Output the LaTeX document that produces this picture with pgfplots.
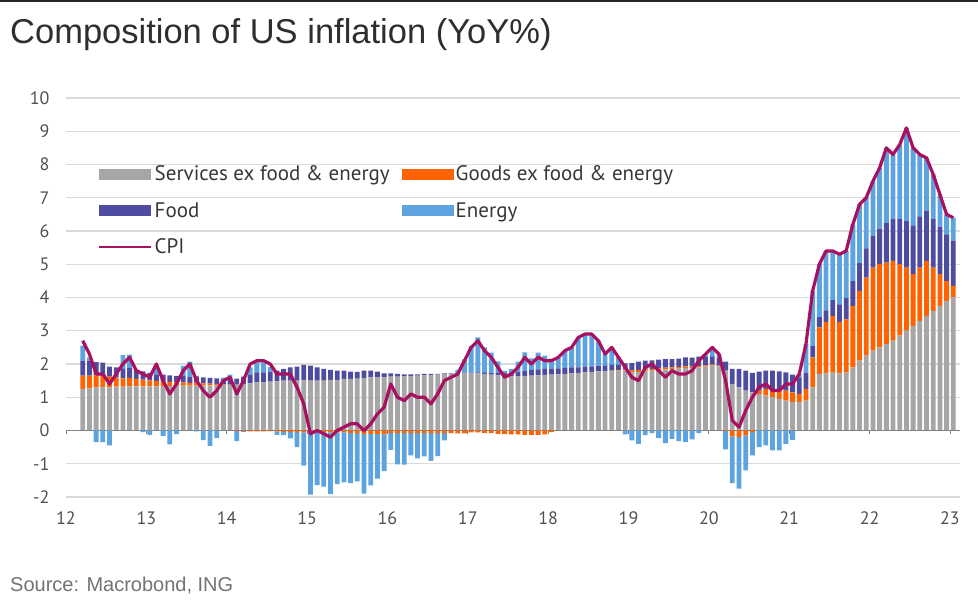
\documentclass[border=0pt]{standalone}
\usepackage{pgfplots}
\usepackage{pgfplotstable}
\pgfplotsset{compat=1.18}
\usepackage{fontspec}
\setmainfont{Liberation Sans}
\newfontfamily\ingfont{PT Sans}
\definecolor{svc}{RGB}{166,166,166}
\definecolor{gds}{RGB}{255,98,0}
\definecolor{fod}{RGB}{78,76,160}
\definecolor{nrg}{RGB}{92,163,224}
\definecolor{cpi}{RGB}{168,16,96}
\definecolor{gridc}{RGB}{218,218,218}
\definecolor{tickc}{RGB}{80,80,80}
\definecolor{legc}{RGB}{55,55,55}
\definecolor{zeroc}{RGB}{130,130,130}

% t = months since Jan 2012; S services, G goods, F food, E energy (contributions, pp); C = CPI YoY %
\pgfplotstableread{
t S G F E C
2 1.25 0.40 0.45 0.45 2.7
3 1.27 0.38 0.45 0.10 2.3
4 1.30 0.36 0.40 -0.35 1.7
5 1.30 0.34 0.40 -0.35 1.7
6 1.30 0.32 0.30 -0.45 1.4
7 1.32 0.28 0.30 0.00 1.7
8 1.32 0.25 0.30 0.40 2.0
9 1.33 0.25 0.30 0.40 2.2
10 1.33 0.22 0.28 0.00 1.8
11 1.33 0.20 0.25 -0.05 1.7
12 1.33 0.18 0.22 -0.13 1.6
13 1.33 0.16 0.20 0.22 2.0
14 1.34 0.14 0.20 -0.16 1.5
15 1.34 0.12 0.20 -0.42 1.1
16 1.35 0.10 0.19 -0.11 1.4
17 1.35 0.10 0.19 0.30 1.8
18 1.35 0.08 0.19 0.45 2.0
19 1.36 0.08 0.19 -0.03 1.5
20 1.36 0.06 0.18 -0.29 1.2
21 1.36 0.05 0.17 -0.46 1.0
22 1.37 0.03 0.17 -0.23 1.2
23 1.37 0.02 0.15 0.05 1.5
24 1.38 0.00 0.14 0.16 1.6
25 1.38 -0.02 0.18 -0.30 1.1
26 1.40 -0.02 0.22 -0.02 1.5
27 1.42 -0.03 0.25 0.23 2.0
28 1.45 -0.03 0.30 0.30 2.1
29 1.45 -0.03 0.30 0.30 2.1
30 1.47 -0.02 0.30 0.14 2.0
31 1.48 -0.03 0.32 -0.10 1.7
32 1.50 -0.04 0.35 -0.10 1.7
33 1.50 -0.04 0.40 -0.20 1.7
34 1.50 -0.05 0.42 -0.45 1.3
35 1.52 -0.06 0.45 -1.00 0.8
36 1.50 -0.03 0.45 -1.90 -0.1
37 1.50 -0.04 0.40 -1.60 0.0
38 1.50 -0.04 0.35 -1.65 -0.1
39 1.52 -0.06 0.30 -1.85 -0.2
40 1.52 -0.06 0.28 -1.55 0.0
41 1.55 -0.06 0.25 -1.50 0.1
42 1.55 -0.08 0.22 -1.50 0.2
43 1.56 -0.08 0.20 -1.45 0.2
44 1.58 -0.10 0.22 -1.80 0.0
45 1.60 -0.10 0.20 -1.55 0.2
46 1.60 -0.10 0.17 -1.35 0.5
47 1.60 -0.12 0.12 -1.10 0.7
48 1.62 -0.08 0.10 -0.50 1.4
49 1.62 -0.08 0.08 -0.94 1.0
50 1.63 -0.08 0.06 -0.95 0.9
51 1.64 -0.08 0.05 -0.67 1.1
52 1.65 -0.08 0.04 -0.76 1.0
53 1.66 -0.08 0.04 -0.70 1.0
54 1.67 -0.08 0.03 -0.83 0.8
55 1.68 -0.08 0.02 -0.69 1.1
56 1.70 -0.08 0.02 -0.22 1.5
57 1.70 -0.08 0.02 0.00 1.6
58 1.71 -0.09 0.02 0.09 1.7
59 1.72 -0.09 0.02 0.40 2.1
60 1.72 -0.06 0.02 0.80 2.5
61 1.72 -0.06 0.03 1.05 2.7
62 1.70 -0.07 0.05 0.75 2.4
63 1.68 -0.08 0.06 0.60 2.2
64 1.66 -0.10 0.07 0.35 1.9
65 1.64 -0.11 0.10 0.05 1.6
66 1.63 -0.12 0.12 0.10 1.7
67 1.63 -0.12 0.14 0.30 1.9
68 1.64 -0.13 0.16 0.55 2.2
69 1.65 -0.13 0.17 0.35 2.0
70 1.66 -0.13 0.18 0.50 2.2
71 1.67 -0.12 0.18 0.40 2.1
72 1.68 -0.05 0.18 0.30 2.1
73 1.69 0.00 0.18 0.33 2.2
74 1.70 0.00 0.18 0.52 2.4
75 1.72 0.00 0.18 0.60 2.5
76 1.73 0.00 0.17 0.90 2.8
77 1.75 0.00 0.17 0.98 2.9
78 1.76 0.00 0.17 0.97 2.9
79 1.78 0.00 0.17 0.75 2.7
80 1.78 0.00 0.18 0.34 2.3
81 1.80 0.00 0.17 0.53 2.5
82 1.80 0.02 0.17 0.21 2.2
83 1.82 0.02 0.18 -0.12 1.9
84 1.75 0.06 0.22 -0.30 1.6
85 1.76 0.06 0.25 -0.40 1.5
86 1.78 0.06 0.26 -0.14 1.9
87 1.80 0.05 0.26 -0.08 2.0
88 1.82 0.05 0.26 -0.23 1.8
89 1.84 0.05 0.26 -0.38 1.6
90 1.85 0.05 0.25 -0.25 1.8
91 1.86 0.05 0.25 -0.32 1.7
92 1.88 0.05 0.27 -0.35 1.7
93 1.88 0.04 0.27 -0.27 1.8
94 1.90 0.04 0.28 -0.08 2.1
95 1.92 0.04 0.25 0.06 2.3
96 1.95 0.03 0.25 0.27 2.5
97 1.93 0.02 0.25 0.10 2.3
98 1.80 -0.01 0.27 -0.56 1.5
99 1.40 -0.18 0.45 -1.40 0.3
100 1.30 -0.20 0.55 -1.55 0.1
101 1.20 -0.15 0.60 -1.05 0.6
102 1.15 -0.05 0.58 -0.70 1.0
103 1.10 0.10 0.57 -0.50 1.3
104 1.05 0.20 0.55 -0.45 1.4
105 1.00 0.25 0.55 -0.60 1.2
106 0.95 0.28 0.55 -0.60 1.2
107 0.90 0.30 0.55 -0.40 1.4
108 0.85 0.30 0.53 -0.28 1.4
109 0.85 0.25 0.50 0.10 1.7
110 0.90 0.35 0.49 0.86 2.6
111 1.30 0.90 0.34 1.66 4.2
112 1.70 1.40 0.31 1.59 5.0
113 1.72 1.55 0.34 1.79 5.4
114 1.74 1.70 0.48 1.48 5.4
115 1.72 1.55 0.52 1.51 5.3
116 1.74 1.60 0.64 1.42 5.4
117 1.90 1.85 0.74 1.71 6.2
118 2.10 2.10 0.85 1.75 6.8
119 2.25 2.35 0.88 1.52 7.0
120 2.40 2.50 0.95 1.65 7.5
121 2.50 2.50 1.07 1.83 7.9
122 2.60 2.45 1.19 2.26 8.5
123 2.70 2.40 1.27 1.93 8.3
124 2.85 2.15 1.36 2.24 8.6
125 3.00 1.90 1.40 2.80 9.1
126 3.15 1.55 1.47 2.33 8.5
127 3.30 1.60 1.54 1.86 8.3
128 3.45 1.65 1.51 1.59 8.2
129 3.60 1.30 1.47 1.33 7.7
130 3.75 0.95 1.43 0.97 7.1
131 3.90 0.60 1.40 0.60 6.5
132 4.00 0.35 1.36 0.69 6.4
}\data

\pgfplotsset{
  base/.style={scale only axis, width=894pt, height=399pt,
    at={(66pt,106pt)}, anchor=south west,
    xmin=-0.5, xmax=133, ymin=-2, ymax=10,
    xtick={-0.5,11.5,23.5,35.5,47.5,59.5,71.5,83.5,95.5,107.5,119.5,131.5}},
}

\begin{document}
\begin{tikzpicture}[x=1pt,y=1pt]
\useasboundingbox (0,0) rectangle (978,603);
\fill[black!85] (0,600.5) rectangle (978,603);
\node[anchor=base west, inner sep=0pt, text=black!82,
      font=\fontsize{34.5}{38}\selectfont] at (10,559) {Composition of US inflation (YoY\%)};
\node[anchor=base west, inner sep=0pt, text=black!55,
      font=\fontsize{20}{23}\selectfont] at (10,12) {Source: Macrobond, ING};

% positive contributions, grid, labels, legend
\begin{axis}[base,
  ybar stacked, bar width=0.72,
  axis line style={draw=none}, major tick length=0pt,
  ytick={-2,-1,0,1,2,3,4,5,6,7,8,9,10},
  ymajorgrids, grid style={gridc, line width=1.2pt},
  /pgf/number format/assume math mode=true,
  tick label style={font=\ingfont\fontsize{18}{20}\selectfont, text=tickc},
  yticklabel style={xshift=-13pt},
  xticklabel style={yshift=-11pt},
  xticklabels={\mbox{12},\mbox{13},\mbox{14},\mbox{15},\mbox{16},\mbox{17},\mbox{18},\mbox{19},\mbox{20},\mbox{21},\mbox{22},\mbox{23}},
  legend columns=2, legend cell align=left,
  legend image code/.code={\fill[#1] (0pt,-5.5pt) rectangle (52pt,5.5pt);},
  legend style={draw=none, fill=none, at={(0.0358,0.835)}, anchor=north west,
    inner sep=0pt, font=\ingfont\fontsize{21}{24}\selectfont, text=legc,
    row sep=16pt, /tikz/every even column/.append style={column sep=10pt}},
]
\addplot[fill=svc, draw=none] table[x=t, y=S] {\data};
\addlegendentry{Services ex food \& energy}
\addplot[fill=gds, draw=none] table[x=t, y expr={max(\thisrow{G},0)}] {\data};
\addlegendentry{Goods ex food \& energy}
\addplot[fill=fod, draw=none] table[x=t, y expr={max(\thisrow{F},0)}] {\data};
\addlegendentry{Food}
\addplot[fill=nrg, draw=none] table[x=t, y expr={max(\thisrow{E},0)}] {\data};
\addlegendentry{Energy}
\addlegendimage{legend image code/.code={\draw[cpi, line width=2.5pt] (0pt,0pt) -- (52pt,0pt);}}
\addlegendentry{CPI}
\end{axis}

% negative contributions and zero line
\begin{axis}[base,
  ybar stacked, bar width=0.72,
  axis x line=middle, axis y line=none,
  x axis line style={-, draw=zeroc, line width=1pt},
  xticklabels={}, tick align=outside, major tick length=4pt,
  x tick style={draw=zeroc, line width=0.8pt},
]
\addplot[fill=gds, draw=none] table[x=t, y expr={min(\thisrow{G},0)}] {\data};
\addplot[fill=nrg, draw=none] table[x=t, y expr={min(\thisrow{E},0)}] {\data};
\end{axis}

% CPI line
\begin{axis}[base, hide axis]
\addplot[cpi, line width=3.2pt, no markers, line join=round] table[x=t, y=C] {\data};
\end{axis}
\end{tikzpicture}
\end{document}
